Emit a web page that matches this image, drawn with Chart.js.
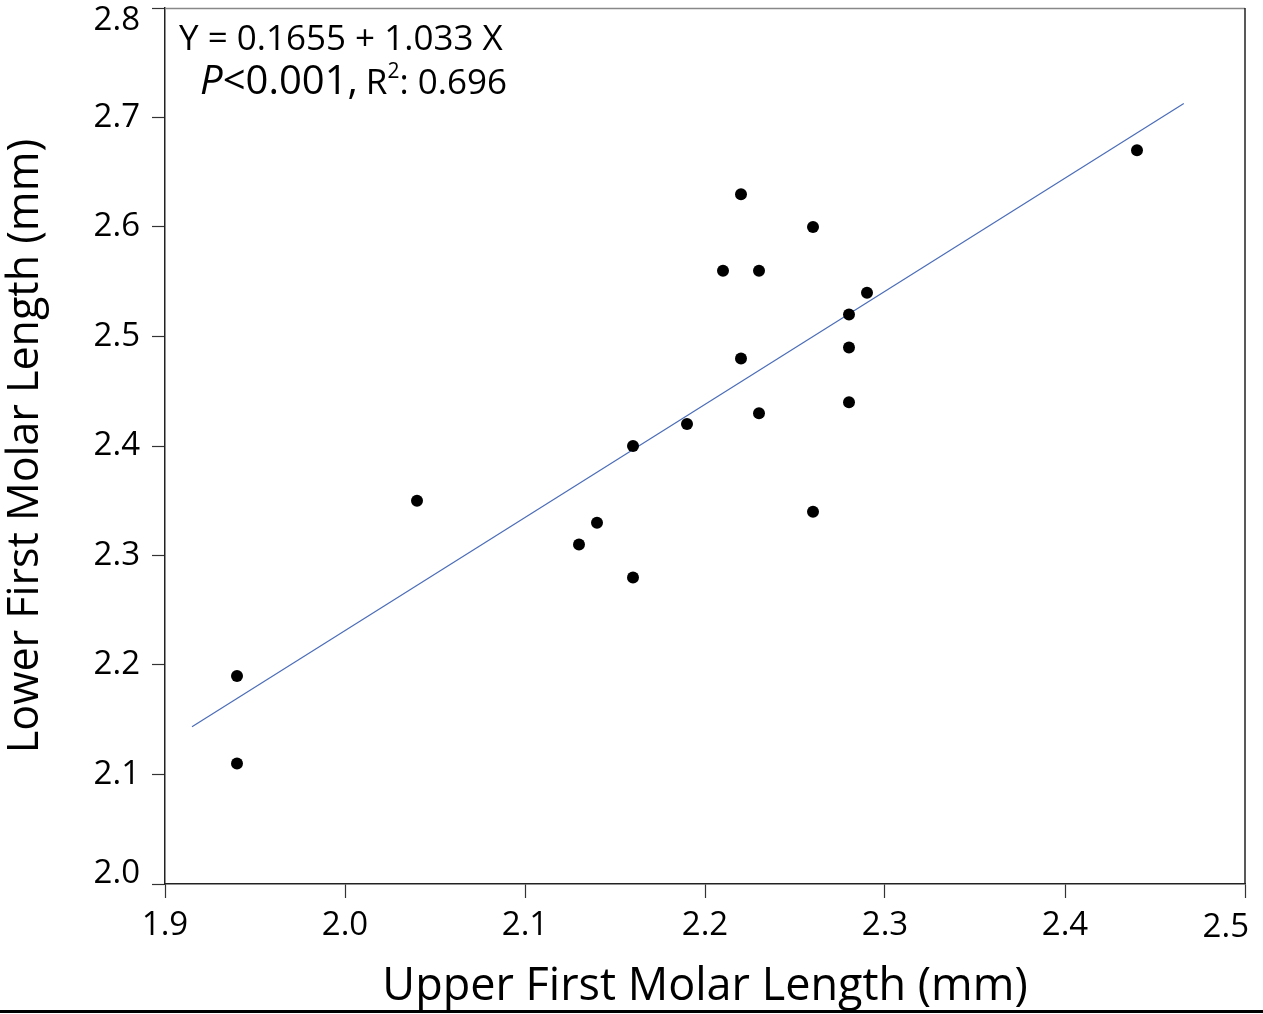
<!DOCTYPE html>
<html>
<head>
<meta charset="utf-8">
<script src="https://cdn.jsdelivr.net/npm/chart.js@4.4.0/dist/chart.umd.min.js"></script>
<style>
  body { margin: 0; background: #fff; }
  #wrap { width: 1263px; height: 1014px; position: relative; }
</style>
</head>
<body>
<div id="wrap"><canvas id="myChart"></canvas></div>
<script>
// datos
const upperM1 = [1.94, 1.94, 2.04, 2.13, 2.14, 2.16, 2.16, 2.19, 2.21, 2.22, 2.22, 2.23, 2.23, 2.26, 2.26, 2.28, 2.28, 2.28, 2.29, 2.44];
const lowerM1 = [2.19, 2.11, 2.35, 2.31, 2.33, 2.28, 2.40, 2.42, 2.56, 2.63, 2.48, 2.56, 2.43, 2.60, 2.34, 2.52, 2.49, 2.44, 2.54, 2.67];
const fitX = [1.915, 2.466];
const intercept = 0.1655;
const slope = 1.033;
const xTicks = [1.9, 2.0, 2.1, 2.2, 2.3, 2.4, 2.5];
const yTicks = [2.0, 2.1, 2.2, 2.3, 2.4, 2.5, 2.6, 2.7, 2.8];

const FONT = "'Open Sans', 'Noto Sans', sans-serif";
const TICK_SIZE = 33;

const puntos = upperM1.map((x, i) => ({ x: x, y: lowerM1[i] }));
const linea = fitX.map(x => ({ x: x, y: intercept + slope * x }));

// marco, etiquetas de los extremos, texto de la ecuacion y linea inferior
const extras = {
    id: 'extras',
    afterDraw(chart) {
        const c = chart.ctx;
        const a = chart.chartArea;
        const sx = chart.scales.x;
        const sy = chart.scales.y;
        c.save();
        c.lineWidth = 1.5;
        c.strokeStyle = '#888';
        c.beginPath();
        c.moveTo(a.left, a.top + 0.5);
        c.lineTo(a.right, a.top + 0.5);
        c.stroke();
        c.strokeStyle = '#222';
        c.beginPath();
        c.moveTo(a.right, a.top);
        c.lineTo(a.right, a.bottom);
        c.stroke();

        // etiquetas extremas recortadas al rango del eje
        c.fillStyle = '#000';
        c.font = TICK_SIZE + 'px ' + FONT;
        c.textAlign = 'right';
        c.textBaseline = 'top';
        const yMax = yTicks[yTicks.length - 1];
        c.fillText(yMax.toFixed(1), sy.right - 13 - 12, sy.getPixelForValue(yMax) - 4);
        c.textBaseline = 'bottom';
        c.fillText(yTicks[0].toFixed(1), sy.right - 13 - 12, sy.getPixelForValue(yTicks[0]) + 6);
        const xMax = xTicks[xTicks.length - 1];
        c.textAlign = 'right';
        c.textBaseline = 'top';
        c.fillText(xMax.toFixed(1), sx.getPixelForValue(xMax) + 4, sx.top + 14 + 13);

        c.textBaseline = 'alphabetic';
        c.textAlign = 'left';
        c.font = '35px ' + FONT;
        c.fillText('Y = 0.1655 + 1.033 X', 179, 50);
        c.font = 'italic 40px ' + FONT;
        c.fillText('P', 200, 94);
        let px = 200 + c.measureText('P').width;
        c.font = '40px ' + FONT;
        c.fillText('<0.001,', px, 94);
        px += c.measureText('<0.001,').width + 8;
        c.font = '35px ' + FONT;
        c.fillText('R', px, 94);
        px += c.measureText('R').width;
        c.font = '21px ' + FONT;
        c.fillText('2', px, 78);
        px += c.measureText('2').width;
        c.font = '35px ' + FONT;
        c.fillText(': 0.696', px, 94);

        c.fillRect(0, 1010, chart.width, 3);
        c.restore();
    }
};

const ctx = document.getElementById('myChart');
new Chart(ctx, {
    type: 'scatter',
    data: {
        datasets: [
            {
                label: 'Datos',
                data: puntos,
                backgroundColor: '#000',
                borderWidth: 0,
                pointRadius: 6
            },
            {
                label: 'Ajuste',
                type: 'line',
                data: linea,
                borderColor: '#4a6cb8',
                borderWidth: 1.2,
                pointRadius: 0,
                fill: false
            }
        ]
    },
    options: {
        responsive: true,
        maintainAspectRatio: false,
        animation: false,
        layout: { padding: { top: 8, right: 18, left: 0, bottom: 0 } },
        plugins: {
            legend: { display: false },
            tooltip: { enabled: false }
        },
        scales: {
            x: {
                type: 'linear',
                min: 1.9,
                max: 2.5,
                afterBuildTicks: axis => { axis.ticks = xTicks.map(v => ({ value: v })); },
                afterFit: axis => {
                    axis.height = 1014 - 884;
                    axis.paddingLeft = 0;
                    axis.paddingRight = 0;
                },
                ticks: {
                    color: '#000',
                    font: { family: FONT, size: TICK_SIZE },
                    padding: 8,
                    callback: v => (v === xTicks[xTicks.length - 1] ? '' : v.toFixed(1))
                },
                grid: { drawOnChartArea: false, tickLength: 14, color: '#333', tickWidth: 1.2 },
                border: { display: true, color: '#222', width: 1.5 },
                title: {
                    display: true,
                    text: 'Upper First Molar Length (mm)',
                    color: '#000',
                    font: { family: FONT, size: 45 },
                    padding: { top: 0, bottom: 0 }
                }
            },
            y: {
                type: 'linear',
                min: 2.0,
                max: 2.8,
                afterBuildTicks: axis => { axis.ticks = yTicks.map(v => ({ value: v })); },
                afterFit: axis => {
                    axis.width = 165;
                    axis.paddingTop = 0;
                    axis.paddingBottom = 0;
                },
                ticks: {
                    color: '#000',
                    font: { family: FONT, size: TICK_SIZE },
                    padding: 12,
                    callback: v => (v === yTicks[0] || v === yTicks[yTicks.length - 1] ? '' : v.toFixed(1))
                },
                grid: { drawOnChartArea: false, tickLength: 13, color: '#333', tickWidth: 1.2 },
                border: { display: true, color: '#222', width: 1.5 },
                title: {
                    display: true,
                    text: 'Lower First Molar Length (mm)',
                    color: '#000',
                    font: { family: FONT, size: 43 },
                    padding: { top: 0, bottom: 0 }
                }
            }
        }
    },
    plugins: [extras]
});
</script>
</body>
</html>
